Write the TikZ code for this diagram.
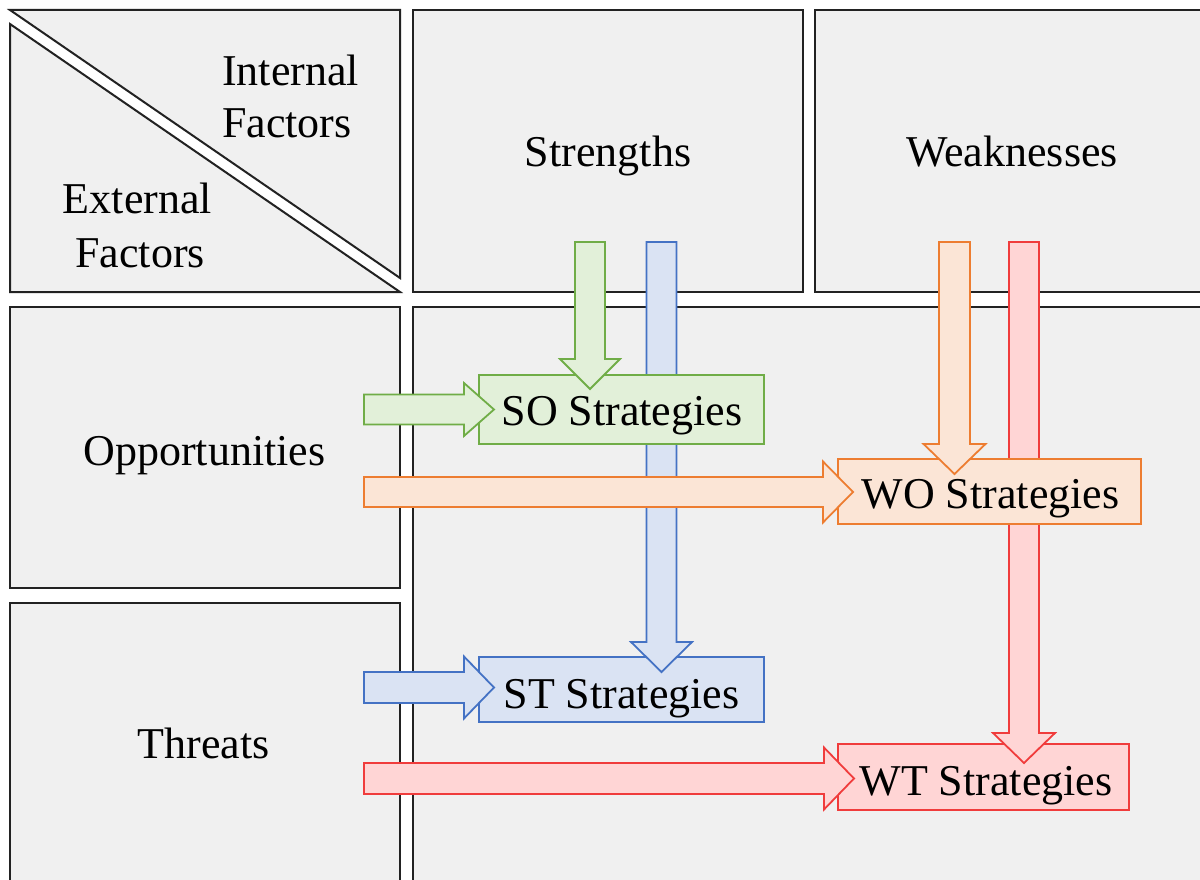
\documentclass[tikz,border=0pt]{standalone}
\usepackage{fontspec}
\setmainfont{Liberation Serif}
\usetikzlibrary{calc,fit}

\definecolor{cellfill}{HTML}{F0F0F0}
\definecolor{cellline}{HTML}{222222}
\definecolor{gfill}{HTML}{E2F0D9}\definecolor{gline}{HTML}{70AD47}
\definecolor{bfill}{HTML}{DAE3F3}\definecolor{bline}{HTML}{4472C4}
\definecolor{ofill}{HTML}{FBE5D6}\definecolor{oline}{HTML}{ED7D31}
\definecolor{rfill}{HTML}{FFD5D5}\definecolor{rline}{HTML}{F03C3C}

% block arrow pointing right: style, tail, tip, half shaft width, half head width
\newcommand\blockright[5]{%
  \draw[#1] let \p1=(#2), \p2=(#3) in
    (\x1,\y2+#4pt) -- (\x2-30pt,\y2+#4pt) -- (\x2-30pt,\y2+#5pt) -- (\x2,\y2)
    -- (\x2-30pt,\y2-#5pt) -- (\x2-30pt,\y2-#4pt) -- (\x1,\y2-#4pt) -- cycle;}
% block arrow pointing down: style, tail, tip, half shaft width, half head width
\newcommand\blockdown[5]{%
  \draw[#1] let \p1=(#2), \p2=(#3) in
    (\x2-#4pt,\y1) -- (\x2-#4pt,\y2+30pt) -- (\x2-#5pt,\y2+30pt) -- (\x2,\y2)
    -- (\x2+#5pt,\y2+30pt) -- (\x2+#4pt,\y2+30pt) -- (\x2+#4pt,\y1) -- cycle;}

\tikzset{
  cell/.style={draw=cellline, fill=cellfill, line width=2pt, inner sep=0pt},
  txt/.style={inner sep=0pt, anchor=base, font=\fontsize{44}{50}\selectfont},
  gblk/.style={draw=gline, fill=gfill, line width=1.8pt, line join=miter},
  bblk/.style={draw=bline, fill=bfill, line width=1.8pt, line join=miter},
  oblk/.style={draw=oline, fill=ofill, line width=1.8pt, line join=miter},
  rblk/.style={draw=rline, fill=rfill, line width=1.8pt, line join=miter},
}

\begin{document}
\begin{tikzpicture}[x=1pt,y=-1pt]
\useasboundingbox (0,0) rectangle (1200,880);
\clip (0,0) rectangle (1200,880);
\fill[white] (0,0) rectangle (1200,880);

% header corner split into two triangles
\draw[cell] (10,10) -- (400,10) -- (400,278) -- cycle;
\draw[cell] (10,24) -- (400,292) -- (10,292) -- cycle;
\node[txt, anchor=base west] (intA) at (222,86) {Internal};
\node[txt, anchor=base west] (intB) at (222,138) {Factors};
\node[txt] (extA) at (137.5,213) {External};
\node[txt] (extB) at (140,267) {Factors};

% grid cells
\node[cell, fit={(413,10) (803,292)}] (str) {};
\node[cell, fit={(815,10) (1215,292)}] (weak) {};
\node[cell, fit={(10,307) (400,588)}] (opp) {};
\node[cell, fit={(10,603) (400,895)}] (thr) {};
\node[cell, fit={(413,307) (1215,895)}] (mat) {};

\node[txt] (strT) at (608,167) {Strengths};
\node[txt] (weakT) at (1012,167) {Weaknesses};
\node[txt] (oppT) at (204.5,465) {Opportunities};
\node[txt] (thrT) at (203.5,758) {Threats};

% arrow end points
\coordinate (gdA) at (590,242);   \coordinate (gdB) at (590,389);
\coordinate (bdA) at (661.5,242); \coordinate (bdB) at (661.5,672);
\coordinate (odA) at (954.5,242); \coordinate (odB) at (954.5,474);
\coordinate (rdA) at (1024,242);  \coordinate (rdB) at (1024,763);
\coordinate (grA) at (364,409.5); \coordinate (grB) at (494,409.5);
\coordinate (orA) at (364,492);   \coordinate (orB) at (853,492);
\coordinate (brA) at (364,687.5); \coordinate (brB) at (494,687.5);
\coordinate (rrA) at (364,778.5); \coordinate (rrB) at (854,778.5);

% strategy boxes (lower ones first, so long arrows pass over them)
\node[bblk, inner sep=0pt, fit={(479,657) (764,722)}] (st) {};
\node[rblk, inner sep=0pt, fit={(838,744) (1129,810)}] (wt) {};

\blockdown{bblk}{bdA}{bdB}{15}{30.5}
\blockdown{rblk}{rdA}{rdB}{15}{31}

\node[gblk, inner sep=0pt, fit={(479,375) (764,444)}] (so) {};
\node[oblk, inner sep=0pt, fit={(838,459) (1141,524)}] (wo) {};

\blockright{oblk}{orA}{orB}{15}{30.5}
\blockdown{gblk}{gdA}{gdB}{15}{30}
\blockright{gblk}{grA}{grB}{15}{26.5}
\blockright{bblk}{brA}{brB}{15.5}{31}
\blockdown{oblk}{odA}{odB}{15.5}{31}
\blockright{rblk}{rrA}{rrB}{15.5}{31}

\node[txt] (soT) at (622,425) {SO Strategies};
\node[txt] (woT) at (990.5,508) {WO Strategies};
\node[txt] (stT) at (621.5,708) {ST Strategies};
\node[txt] (wtT) at (986,795) {WT Strategies};
\end{tikzpicture}
\end{document}
